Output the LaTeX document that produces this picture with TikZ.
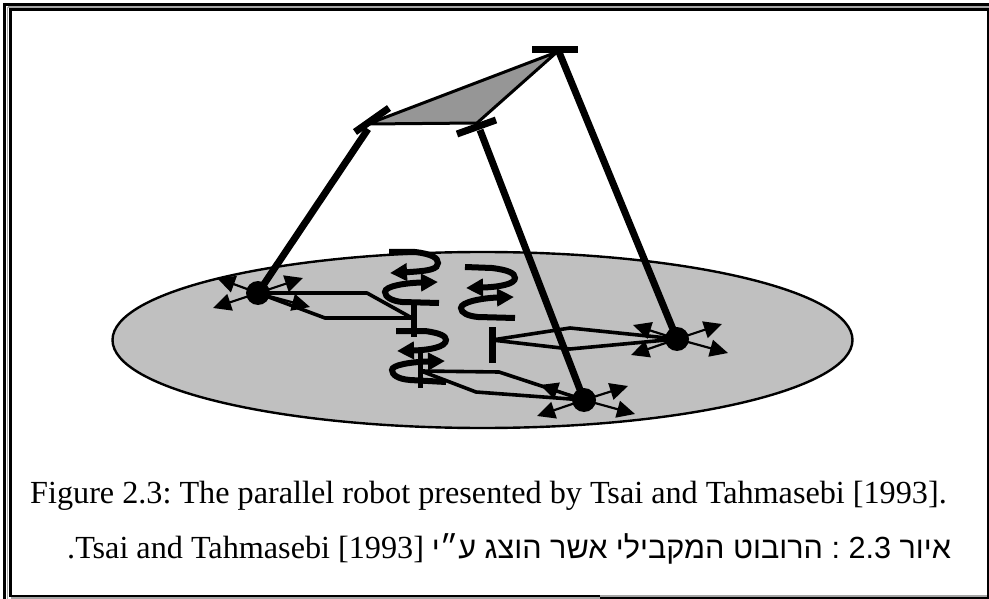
\documentclass[tikz,border=0pt]{standalone}
\usepackage{fontspec}
\usetikzlibrary{arrows.meta}
\setmainfont{Liberation Serif}
\newfontfamily\hebfont[Script=Hebrew]{Liberation Sans}
\TeXXeTstate=1
\frenchspacing
\tikzset{
  frameline/.style={line width=2.7pt,black,line cap=butt},
  frameshade/.style={line width=1.8pt,gray!70},
  leg/.style={line width=7pt,line cap=butt},
  bar/.style={line width=7pt,line cap=butt},
  link/.style={line width=3.6pt,line join=round},
  axis/.style={line width=5.5pt},
  slide/.style={line width=2.2pt,-{Triangle[length=18pt,width=17pt]}},
  spin/.style={line width=6pt,-{Triangle[length=17pt,width=17pt]}},
  joint/.style={circle,fill=black,draw=none,inner sep=0pt,minimum size=24pt},
  caption/.style={inner sep=0pt,anchor=base west,font=\fontsize{32.2}{36}\selectfont},
}
\begin{document}
\begin{tikzpicture}[x=1pt,y=-1pt]
\useasboundingbox (0,0) rectangle (989,599);
\fill[white] (0,0) rectangle (989,599);
% frame
\draw[frameshade] (7.5,7) -- (989,7);
\draw[frameshade] (7.5,7) -- (7.5,599);
\draw[frameshade] (11,598) -- (600,598);
\draw[frameshade] (600,596) -- (987,596);
\draw[frameline] (4.5,4.2) -- (989,4.2);
\draw[frameline] (4.5,3) -- (4.5,599);
\draw[frameline] (10.5,9.5) -- (988,9.5);
\draw[frameline] (10.5,8.3) -- (10.5,597);
\draw[frameline] (9.3,596) -- (600,596);
\draw[frameline] (600,598) -- (989,598);
\draw[frameline] (988,8.3) -- (988,599);
% base
\fill[draw=black,line width=2.4pt,fill={rgb,255:red,192;green,192;blue,192}] (482.5,340) ellipse [x radius=370,y radius=88];
% platform
\coordinate (pa) at (368,124);
\coordinate (pb) at (477,123);
\coordinate (pc) at (557,52);
\filldraw[fill={rgb,255:red,150;green,150;blue,150},line width=3pt,line join=round] (pa) -- (pb) -- (pc) -- cycle;
\node[joint] (j1) at (258,293) {};
\node[joint] (j2) at (584,400) {};
\node[joint] (j3) at (677,339) {};
\coordinate (ta) at (368,129);
\coordinate (tb) at (480,130);
\coordinate (tc) at (559,52);
\draw[bar] (355,132) -- (389,108);
\draw[bar] (457,134) -- (496,120);
\draw[bar] (532,50) -- (578,50);
% slides
\draw[slide] (j1.center) -- (217,278);
\draw[slide] (j1.center) -- (213,308);
\draw[slide] (j1.center) -- (303,278);
\draw[slide] (j1.center) -- (310,307);
\draw[slide] (j2.center) -- (628,386);
\draw[slide] (j2.center) -- (635,414);
\draw[slide] (j2.center) -- (537,416);
\draw[slide] (j2.center) -- (540,385);
\draw[slide] (j3.center) -- (722,324);
\draw[slide] (j3.center) -- (728,353);
\draw[slide] (j3.center) -- (631,355);
\draw[slide] (j3.center) -- (633,325);
% spirals and axes
\coordinate (axa) at (414,303);
\coordinate (axb) at (421,371);
\coordinate (axc) at (492,340);
\draw[spin] (389,252) -- (415,252) .. controls (432,254) and (438,258) .. (438,263) .. controls (438,269) and (430,271) .. (390,273);
\draw[spin] (439,303) -- (402,302) .. controls (392,301) and (385,297) .. (385,292) .. controls (385,286) and (405,283) .. (438,282);
\draw[spin] (465,267) -- (492,268) .. controls (508,270) and (515,273) .. (515,278) .. controls (515,284) and (500,287) .. (466,288);
\draw[spin] (515,318) -- (478,317) .. controls (468,316) and (461,313) .. (461,308) .. controls (461,302) and (482,298) .. (514,297);
\draw[spin] (396,331) -- (425,331) .. controls (440,333) and (446,336) .. (446,340) .. controls (446,347) and (430,350) .. (397,351);
\draw[spin] (446,382) -- (410,380) .. controls (398,379) and (392,375) .. (392,370) .. controls (392,365) and (410,362) .. (445,361);
\draw[axis] (414,303) -- (414,337);
\draw[axis] (420.5,352) -- (420.5,388);
\draw[line width=7pt] (492,327) -- (492,363);
% links
\draw[link] (j1.center) -- (367,293) -- (412,318);
\draw[link] (j1.center) -- (325,318) -- (412,318);
\draw[link] (axb) -- (499,372) -- (j2.center);
\draw[link] (axb) -- (476,392) -- (j2.center);
\draw[link] (axc) -- (570,328) -- (j3.center);
\draw[link] (axc) -- (570,349) -- (j3.center);
% legs
\draw[leg] (j1.center) -- (ta);
\draw[leg] (j2.center) -- (tb);
\draw[leg] (j3.center) -- (tc);
% captions
\node[caption] (capen) at (30,503) {Figure 2.3: The parallel robot presented by Tsai and Tahmasebi [1993].};
\node[caption] (caphe) at (67,558) {\beginR{\hebfont\fontsize{30.6}{36}\selectfont איור \beginL 2.3\endL{} : הרובוט המקבילי אשר הוצג ע״י} \beginL[1993]\endL{} \beginL Tsai and Tahmasebi\endL.\endR};
\end{tikzpicture}
\end{document}
